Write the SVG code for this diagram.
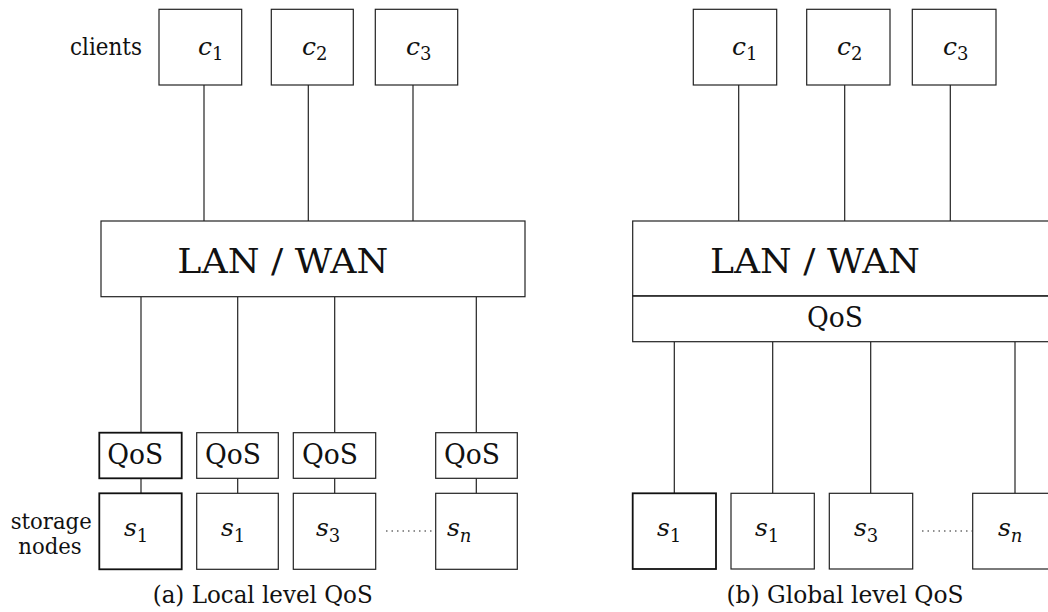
<svg xmlns="http://www.w3.org/2000/svg" width="1048" height="612" viewBox="0 0 1048 612">
<style>
.box{fill:#fff;stroke:#222;stroke-width:1.2}
.bold{stroke:#111;stroke-width:1.8}
.ln{stroke:#222;stroke-width:1.2;fill:none}
.dot{stroke:#222;stroke-width:1.2;stroke-dasharray:1.5 4;fill:none}
text{font-family:"DejaVu Serif","Liberation Serif",serif;fill:#111}
.m{font-style:italic;font-size:25px}
.sub{font-style:normal;font-size:18px}
.subi{font-style:italic;font-size:18px}
.q{font-size:28px}
.lbl{font-size:25px}
.sn{font-size:22px}
</style>
<rect width="1048" height="612" fill="#fff"/>
<g id="connectors">
<line class="ln" x1="204" y1="85" x2="204" y2="221"/>
<line class="ln" x1="308.3" y1="85" x2="308.3" y2="221"/>
<line class="ln" x1="413" y1="85" x2="413" y2="221"/>
<line class="ln" x1="141" y1="297" x2="141" y2="433"/>
<line class="ln" x1="237.7" y1="297" x2="237.7" y2="433"/>
<line class="ln" x1="334.7" y1="297" x2="334.7" y2="433"/>
<line class="ln" x1="476.3" y1="297" x2="476.3" y2="433"/>
<line class="ln" x1="141" y1="478" x2="141" y2="493.3"/>
<line class="ln" x1="237.7" y1="478" x2="237.7" y2="493.3"/>
<line class="ln" x1="334.7" y1="478" x2="334.7" y2="493.3"/>
<line class="ln" x1="476.3" y1="478" x2="476.3" y2="493.3"/>
<line class="dot" x1="386" y1="531" x2="436" y2="531"/>
<line class="ln" x1="738.7" y1="85" x2="738.7" y2="221"/>
<line class="ln" x1="844.7" y1="85" x2="844.7" y2="221"/>
<line class="ln" x1="950.3" y1="85" x2="950.3" y2="221"/>
<line class="ln" x1="674.3" y1="342" x2="674.3" y2="493.3"/>
<line class="ln" x1="772.7" y1="342" x2="772.7" y2="493.3"/>
<line class="ln" x1="870.7" y1="342" x2="870.7" y2="493.3"/>
<line class="ln" x1="1015" y1="342" x2="1015" y2="493.3"/>
<line class="dot" x1="922" y1="531" x2="972" y2="531"/>
</g>
<g id="left">
<text class="lbl" x="70" y="55" textLength="72" lengthAdjust="spacingAndGlyphs">clients</text>
<g id="a-c1"><rect class="box" x="159" y="9.3" width="82.7" height="75.7"/><text class="m" x="198" y="55">c<tspan class="sub" dy="5">1</tspan></text></g>
<g id="a-c2"><rect class="box" x="271.3" y="9.3" width="82" height="75.7"/><text class="m" x="302" y="55">c<tspan class="sub" dy="5">2</tspan></text></g>
<g id="a-c3"><rect class="box" x="375.3" y="9.3" width="82.4" height="75.7"/><text class="m" x="406" y="55">c<tspan class="sub" dy="5">3</tspan></text></g>
<g id="a-lan"><rect class="box" x="101" y="221" width="424" height="75.7"/><text x="177.3" y="273.3" font-size="34" textLength="211" lengthAdjust="spacingAndGlyphs">LAN / WAN</text></g>
<g id="a-q1"><rect class="box bold" x="99.3" y="432.7" width="82.4" height="45.6"/><text class="q" x="107.3" y="464" textLength="56" lengthAdjust="spacingAndGlyphs">QoS</text></g>
<g id="a-q2"><rect class="box" x="196.7" y="432.7" width="81.6" height="45.6"/><text class="q" x="205" y="464" textLength="56" lengthAdjust="spacingAndGlyphs">QoS</text></g>
<g id="a-q3"><rect class="box" x="293.3" y="432.7" width="82.4" height="45.6"/><text class="q" x="302" y="464" textLength="56" lengthAdjust="spacingAndGlyphs">QoS</text></g>
<g id="a-q4"><rect class="box" x="435.7" y="432.7" width="81.6" height="45.6"/><text class="q" x="444" y="464" textLength="56" lengthAdjust="spacingAndGlyphs">QoS</text></g>
<text class="sn" x="10.7" y="529" textLength="81" lengthAdjust="spacingAndGlyphs">storage</text>
<text class="sn" x="18.3" y="554" textLength="63.4" lengthAdjust="spacingAndGlyphs">nodes</text>
<g id="a-s1"><rect class="box bold" x="99.3" y="493.3" width="82.4" height="76"/><text class="m" x="124" y="536">s<tspan class="sub" dy="6">1</tspan></text></g>
<g id="a-s2"><rect class="box" x="196.7" y="493.3" width="81.6" height="76"/><text class="m" x="221" y="536">s<tspan class="sub" dy="6">1</tspan></text></g>
<g id="a-s3"><rect class="box" x="293.3" y="493.3" width="82.4" height="76"/><text class="m" x="316" y="536">s<tspan class="sub" dy="6">3</tspan></text></g>
<g id="a-sn"><rect class="box" x="435.7" y="493.3" width="81.6" height="76"/><text class="m" x="447" y="536">s<tspan class="subi" dy="6">n</tspan></text></g>
<text class="lbl" x="262.7" y="603" text-anchor="middle" textLength="220" lengthAdjust="spacingAndGlyphs">(a) Local level QoS</text>
</g>
<g id="right">
<g id="b-c1"><rect class="box" x="693.3" y="9.3" width="83.4" height="75.7"/><text class="m" x="732" y="55">c<tspan class="sub" dy="5">1</tspan></text></g>
<g id="b-c2"><rect class="box" x="806.7" y="9.3" width="83.3" height="75.7"/><text class="m" x="837" y="55">c<tspan class="sub" dy="5">2</tspan></text></g>
<g id="b-c3"><rect class="box" x="912.3" y="9.3" width="83.7" height="75.7"/><text class="m" x="943" y="55">c<tspan class="sub" dy="5">3</tspan></text></g>
<g id="b-lan"><rect class="box" x="632.7" y="221" width="440" height="75"/><text x="710" y="273.3" font-size="34" textLength="210" lengthAdjust="spacingAndGlyphs">LAN / WAN</text></g>
<g id="b-qos"><rect class="box" x="632.7" y="296" width="440" height="45.7"/><line class="ln" x1="632.7" y1="296" x2="1048" y2="296" stroke-width="1.8"/><text class="q" x="835" y="326.5" text-anchor="middle" textLength="56" lengthAdjust="spacingAndGlyphs">QoS</text></g>
<g id="b-s1"><rect class="box bold" x="632.7" y="493.3" width="83.3" height="75.7"/><text class="m" x="657" y="536">s<tspan class="sub" dy="6">1</tspan></text></g>
<g id="b-s2"><rect class="box" x="731" y="493.3" width="83.3" height="75.7"/><text class="m" x="755" y="536">s<tspan class="sub" dy="6">1</tspan></text></g>
<g id="b-s3"><rect class="box" x="829.3" y="493.3" width="83.4" height="75.7"/><text class="m" x="854" y="536">s<tspan class="sub" dy="6">3</tspan></text></g>
<g id="b-sn"><rect class="box" x="972.7" y="493.3" width="83.3" height="75.7"/><text class="m" x="998" y="536">s<tspan class="subi" dy="6">n</tspan></text></g>
<text class="lbl" x="845" y="603" text-anchor="middle" textLength="237" lengthAdjust="spacingAndGlyphs">(b) Global level QoS</text>
</g>
</svg>
